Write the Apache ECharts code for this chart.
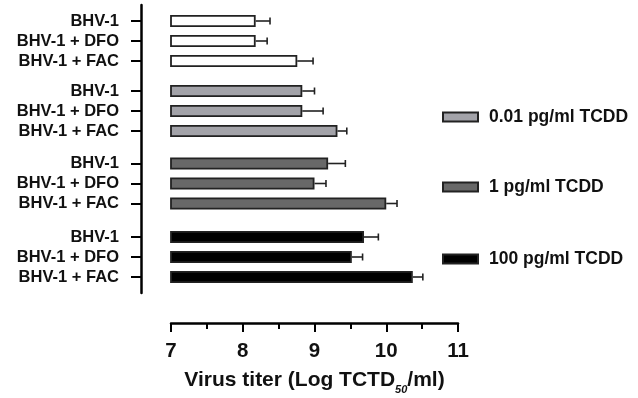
<!DOCTYPE html>
<html>
<head>
<meta charset="utf-8">
<script src="https://cdn.jsdelivr.net/npm/echarts@6/dist/echarts.min.js"></script>
<style>
  html, body { margin: 0; padding: 0; background: #fff; }
  #chart { width: 638px; height: 398px; }
</style>
</head>
<body>
<div id="chart"></div>
<script>
// ---- data ----
const categories = ['BHV-1', 'BHV-1 + DFO', 'BHV-1 + FAC'];
const seriesNames = ['Control', '0.01 pg/ml TCDD', '1 pg/ml TCDD', '100 pg/ml TCDD'];
const controlValues = [8.18, 8.18, 8.76];
const controlErrors = [0.20, 0.16, 0.22];
const tcdd001Values = [8.83, 8.83, 9.32];
const tcdd001Errors = [0.17, 0.29, 0.13];
const tcdd1Values = [9.19, 9.00, 10.00];
const tcdd1Errors = [0.24, 0.16, 0.15];
const tcdd100Values = [9.69, 9.52, 10.37];
const tcdd100Errors = [0.20, 0.15, 0.14];
const xTickLabels = [7, 8, 9, 10, 11];
const axisTitle = 'Virus titer (Log TCTD{sub|50}/ml)';

// ---- styling / layout ----
const FONT = '"Liberation Sans", Arial, sans-serif';
const groupValues = [controlValues, tcdd001Values, tcdd1Values, tcdd100Values];
const groupErrors = [controlErrors, tcdd001Errors, tcdd1Errors, tcdd100Errors];
const fills = ['#ffffff', '#a3a3a9', '#686868', '#000000'];
const groupTops = [11, 81, 153.5, 227];
const plotLeft = 171, plotRight = 180;
const xMin = xTickLabels[0], xMax = xTickLabels[xTickLabels.length - 1];

const grids = [], xAxes = [], yAxes = [], series = [];

groupValues.forEach((vals, g) => {
  grids.push({ left: plotLeft, right: plotRight, top: groupTops[g], height: 60 });
  xAxes.push({ gridIndex: g, type: 'value', min: xMin, max: xMax, show: false });
  yAxes.push({
    gridIndex: g, type: 'category', data: categories, inverse: true, offset: 30,
    axisLine: { show: false, onZero: false },
    axisTick: { show: true, alignWithLabel: true, interval: 0, length: 10, lineStyle: { color: '#000', width: 2 } },
    axisLabel: { interval: 0, margin: 22, color: '#111', fontSize: 16.5, fontWeight: 'bold', fontFamily: FONT }
  });
  series.push({
    name: seriesNames[g], type: 'bar', xAxisIndex: g, yAxisIndex: g,
    data: vals, barWidth: 12,
    itemStyle: { color: fills[g], borderColor: '#222', borderWidth: 1.8 },
    z: 2
  });
  series.push({
    type: 'custom', xAxisIndex: g, yAxisIndex: g, z: 3,
    data: vals.map((v, i) => [v, i, groupErrors[g][i]]),
    encode: { x: 0, y: 1 },
    renderItem: function (params, api) {
      const v = api.value(0), c = api.value(1), e = api.value(2);
      const p0 = api.coord([v, c]);
      const p1 = api.coord([v + e, c]);
      const st = { stroke: '#222', lineWidth: 1.6 };
      return {
        type: 'group',
        children: [
          { type: 'line', shape: { x1: p0[0], y1: p0[1], x2: p1[0], y2: p1[1] }, style: st },
          { type: 'line', shape: { x1: p1[0], y1: p1[1] - 3.5, x2: p1[0], y2: p1[1] + 3.5 }, style: st }
        ]
      };
    }
  });
});

// vertical axis line spanning all groups
grids.push({ left: plotLeft, right: plotRight, top: 5, height: 288 });
xAxes.push({ gridIndex: 4, type: 'value', min: xMin, max: xMax, show: false });
yAxes.push({
  gridIndex: 4, type: 'value', offset: 30,
  axisLine: { show: true, onZero: false, lineStyle: { color: '#000', width: 2.5 } },
  axisTick: { show: false }, axisLabel: { show: false }, splitLine: { show: false }
});

// bottom x axis
grids.push({ left: plotLeft, right: plotRight, top: 300, height: 23 });
xAxes.push({
  gridIndex: 5, type: 'value', min: xMin, max: xMax, interval: 1,
  axisLine: { show: true, onZero: false, lineStyle: { color: '#000', width: 2.5 } },
  axisTick: { show: true, length: 9, lineStyle: { color: '#000', width: 2 } },
  minorTick: { show: true, splitNumber: 2, length: 6, lineStyle: { color: '#000', width: 2 } },
  splitLine: { show: false },
  axisLabel: {
    margin: 18, color: '#111', fontSize: 20.5, fontWeight: 'bold', fontFamily: FONT,
    formatter: v => (xTickLabels.indexOf(v) >= 0 ? String(v) : '')
  },
  name: axisTitle, nameLocation: 'middle', nameGap: 42,
  nameTextStyle: {
    color: '#111', fontSize: 21, fontWeight: 'bold', fontFamily: FONT, lineHeight: 30,
    rich: { sub: { fontSize: 11, fontWeight: 'bold', fontStyle: 'italic', fontFamily: FONT, color: '#111', verticalAlign: 'bottom', lineHeight: 12 } }
  }
});
yAxes.push({ gridIndex: 5, type: 'value', show: false });

const legendCenters = [112, 182, 254];
const legends = [1, 2, 3].map((g, k) => ({
  data: [seriesNames[g]],
  left: 437, top: legendCenters[k] - 9,
  icon: 'rect', itemWidth: 35, itemHeight: 9,
  selectedMode: false,
  textStyle: { color: '#111', fontSize: 17.5, fontWeight: 'bold', fontFamily: FONT, lineHeight: 18, padding: [0, 0, 0, 6] }
}));

const chart = echarts.init(document.getElementById('chart'), null, { renderer: 'canvas' });
chart.setOption({
  animation: false,
  backgroundColor: '#fff',
  grid: grids, xAxis: xAxes, yAxis: yAxes,
  legend: legends,
  series: series
});
</script>
</body>
</html>
